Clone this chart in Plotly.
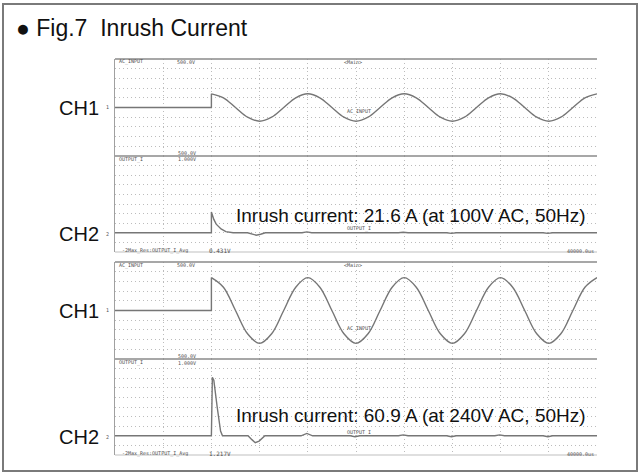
import plotly.graph_objects as go

W, H = 639, 472

# time base in ms (10 ms / div)
t_off = [0, 20, 20]
t_sine = [20, 22.5, 25, 27.5, 30, 32.5, 35, 37.5, 40, 42.5, 45, 47.5, 50,
          52.5, 55, 57.5, 60, 62.5, 65, 67.5, 70, 72.5, 75, 77.5, 80,
          82.5, 85, 87.5, 90, 92.5, 95, 97.5, 100]

# CH1: AC input voltage (V), 100V AC and 240V AC
v_off_100 = [0, 0, 141]
v_ac_100 = [141, 100, 0, -100, -141, -100, 0, 100, 141, 100, 0, -100, -141,
            -100, 0, 100, 141, 100, 0, -100, -141, -100, 0, 100, 141,
            100, 0, -100, -141, -100, 0, 100, 141]
v_off_240 = [0, 0, 339]
v_ac_240 = [339, 240, 0, -240, -339, -240, 0, 240, 339, 240, 0, -240, -339,
            -240, 0, 240, 339, 240, 0, -240, -339, -240, 0, 240, 339,
            240, 0, -240, -339, -240, 0, 240, 339]

# CH2: output / inrush current (A)
t_i_100 = [0, 20, 20, 20.5, 21, 22, 23, 24.5, 27.5, 28.5, 29.3, 30.2, 31.2,
           38.8, 39.8, 40.8, 48.8, 49.8, 50.8, 58.8, 59.8, 60.8, 68.8, 69.8,
           70.8, 78.8, 79.8, 80.8, 88.8, 89.8, 90.8, 100]
i_100 = [0, 0, 21.6, 14, 9, 4, 1.2, 0, 0, -1.8, -2.5, -1.5, 0,
         0, 1, 0, 0, -0.7, 0, 0, 0.6, 0, 0, -0.6, 0, 0, 0.6, 0, 0, -0.6, 0, 0]
t_i_240 = [0, 20, 20.2, 20.5, 21.2, 21.9, 22.3, 27.6, 28.4, 29.1, 29.9, 31.1,
           38.6, 39.8, 41, 48.8, 49.8, 50.8, 58.8, 59.8, 60.8, 68.8, 69.8,
           70.8, 78.8, 79.8, 80.8, 88.8, 89.8, 90.8, 100]
i_240 = [0, 0, 60.9, 58, 30, 5, 0, 0, -4, -7.2, -5.5, 0,
         0, 2.5, 0, 0, -1, 0, 0, 1, 0, 0, -1, 0, 0, 1, 0, 0, -1, 0, 0]

trace_col = "#767676"
grid_col = "#bcbcbc"


def px_x(x):
    return x / W


def px_y(y):
    return 1 - y / H


x_dom = [px_x(115), px_x(597)]
panels = [
    # (axis suffix, y domain px top/bottom, range, dtick)
    ("", 59, 156, [-500, 500], 100),
    ("2", 156, 252, [-20, 80], 10),
    ("3", 262, 359, [-500, 500], 100),
    ("4", 359, 455, [-20, 80], 10),
]

fig = go.Figure()

series = [
    ("", t_off, v_off_100, "linear"),
    ("", t_sine, v_ac_100, "spline"),
    ("2", t_i_100, i_100, "linear"),
    ("3", t_off, v_off_240, "linear"),
    ("3", t_sine, v_ac_240, "spline"),
    ("4", t_i_240, i_240, "linear"),
]
for ax, xs, ys, shape in series:
    fig.add_trace(go.Scatter(
        x=xs, y=ys, mode="lines", xaxis="x" + ax, yaxis="y" + ax,
        line=dict(color=trace_col, width=1.4, shape=shape, smoothing=1),
        showlegend=False, hoverinfo="skip",
    ))

layout = dict(
    width=W, height=H, margin=dict(l=0, r=0, t=0, b=0),
    paper_bgcolor="white", plot_bgcolor="white",
    font=dict(family="Liberation Sans, Arial, sans-serif", color="#111"),
)
shapes = []
for ax, top, bot, rng, dt in panels:
    layout["xaxis" + ax] = dict(
        domain=x_dom, range=[0, 100], anchor="y" + ax, dtick=10, tick0=0,
        showgrid=True, gridcolor=grid_col, griddash="1px,3px", gridwidth=1,
        showticklabels=False, zeroline=False, ticks="", fixedrange=True,
    )
    layout["yaxis" + ax] = dict(
        domain=[px_y(bot), px_y(top)], range=rng, anchor="x" + ax,
        dtick=dt, tick0=0, showgrid=True, gridcolor=grid_col,
        griddash="1px,3px", gridwidth=1, showticklabels=False,
        zeroline=False, ticks="", fixedrange=True,
        showline=True, linecolor="#a0a0a0", linewidth=1,
    )
    xr, yr = "x" + ax + " domain", "y" + ax + " domain"
    # top edge of each channel area
    shapes.append(dict(type="line", xref=xr, yref=yr, x0=0, x1=1, y0=1, y1=1,
                       line=dict(color="#8a8a8a", width=1.5)))
# light bottom edges of the two scope panels
for ax in ("2", "4"):
    shapes.append(dict(type="line", xref="x" + ax + " domain",
                       yref="y" + ax + " domain", x0=0, x1=1, y0=0, y1=0,
                       line=dict(color="#d4d4d4", width=1.5)))
# outer frame
shapes.append(dict(type="rect", xref="paper", yref="paper",
                   x0=px_x(3), x1=px_x(637), y0=px_y(471), y1=px_y(4),
                   line=dict(color="#7a7a7a", width=2)))
layout["shapes"] = shapes

ann = []


def text(x, y, s, size, xanchor="left", color="#111", family=None):
    d = dict(x=px_x(x), y=px_y(y), xref="paper", yref="paper", text=s,
             showarrow=False, xanchor=xanchor, yanchor="middle",
             font=dict(size=size, color=color))
    if family:
        d["font"]["family"] = family
    ann.append(d)


text(14, 28, "● Fig.7  Inrush Current", 23)
text(101, 108, "CH1", 20, "right")
text(101, 234, "CH2", 20, "right")
text(101, 311, "CH1", 20, "right")
text(101, 437, "CH2", 20, "right")
text(234, 215, "Inrush current: 21.6 A (at 100V AC, 50Hz)", 19)
text(234, 415, "Inrush current: 60.9 A (at 240V AC, 50Hz)", 19)

# tiny scope annotations
mono = "DejaVu Sans Mono"
small = "#505050"
for dy, val in ((0, "0.431V"), (203, "1.217V")):
    text(117, 62 + dy, "AC_INPUT", 5, color=small, family=mono)
    text(175, 62 + dy, "500.0V", 5, color=small, family=mono)
    text(353, 62 + dy, "<Main>", 5, "center", color=small, family=mono)
    text(345, 111 + dy * 1.07, "AC_INPUT", 5, color=small, family=mono)
    text(117, 159 + dy, "OUTPUT_I", 5, color=small, family=mono)
    text(176, 152.5 + dy, "500.0V", 5, color=small, family=mono)
    text(176, 159.5 + dy, "1.000V", 5, color=small, family=mono)
    text(345, 229 + dy, "OUTPUT_I", 5, color=small, family=mono)
    text(120, 250 + dy, "-2Max_Res:OUTPUT_I_Avg", 5, color=small, family=mono)
    text(207, 250 + dy, val, 6, color=small, family=mono)
    text(596, 251 + dy, "40000.0us", 5, "right", color=small, family=mono)
    text(107, 107 + dy, "1", 5, "center", color=small, family=mono)
    text(107, 234 + dy, "2", 5, "center", color=small, family=mono)
layout["annotations"] = ann

fig.update_layout(**layout)
# drop the browser's default 8px body margin so the figure sits at 0,0
fig.write_html("out.html", config={"displayModeBar": False},
               post_script="document.body.style.margin = '0';")
